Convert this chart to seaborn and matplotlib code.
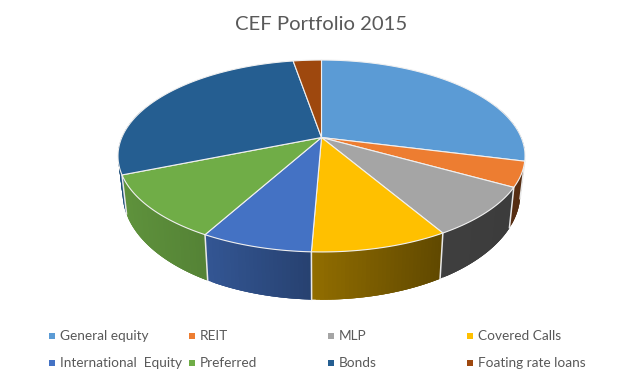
import numpy as np
import seaborn as sns
import matplotlib.pyplot as plt
from matplotlib.colors import to_rgb
from matplotlib.patches import Polygon

categories = ['General equity', 'REIT', 'MLP', 'Covered Calls',
              'International  Equity', 'Preferred', 'Bonds', 'Foating rate loans']
shares = [28.9, 4.2, 8.4, 9.1, 7.4, 10.8, 28.4, 2.7]
colors = ['#5b9bd5', '#ed7d31', '#a5a5a5', '#ffc000',
          '#4472c4', '#70ad47', '#255e91', '#9e480e']

# perspective of the disc, in pixels
CX, CY = 321.5, 137.5
A, B, K = 92.4, 199.7, 0.1927


def project(theta):
    x = np.cos(np.radians(theta))
    y = np.sin(np.radians(theta))
    w = 1 + K * y
    return CX + B * x / w, CY - A * y / w


def drop(px, py):
    # rim point -> same point on the bottom edge of the side wall
    return CX + (px - CX) * 0.977, 1.11 * py + 20


def shade(px):
    return np.interp(px, [118, 208, 312, 441, 525], [0.85, 0.75, 0.57, 0.38, 0.36])


sns.set_theme(style='white')
plt.rcParams['font.family'] = ['Lato', 'DejaVu Sans']

fig, ax = plt.subplots(figsize=(6.4, 3.86), dpi=100)
fig.subplots_adjust(0, 0, 1, 1)

# pie only gives the wedge angles, the wedges are redrawn in perspective
wedges, _ = ax.pie(shares, colors=colors, startangle=90, counterclock=False)
angles = [(w.theta1, w.theta2) for w in wedges]
for w in wedges:
    w.remove()

ax.set_aspect('auto')
ax.set_xlim(0, 640)
ax.set_ylim(386, 0)
ax.axis('off')

# side wall first, strips overlap so no seams show between them
for (t1, t2), col in zip(angles, colors):
    base = np.array(to_rgb(col))
    ts = np.linspace(t1, t2, int(t2 - t1) + 2)
    for i, (a, b) in enumerate(zip(ts[:-1], ts[1:])):
        if np.sin(np.radians((a + b) / 2)) > 0.35:
            continue
        end = ts[min(i + 3, len(ts) - 1)]
        strip = np.linspace(a, end, 6)
        px, py = project(strip)
        qx, qy = drop(px, py)
        pts = list(zip(px, py)) + list(zip(qx[::-1], qy[::-1]))
        ax.add_patch(Polygon(pts, closed=True, lw=0,
                             fc=base * shade(project((a + b) / 2)[0]), zorder=2))
for (t1, t2) in angles:
    # white divider on the wall
    if np.sin(np.radians(t1)) < 0.35:
        p = project(t1)
        q = drop(*p)
        ax.plot([p[0], q[0]], [p[1], q[1]], color='#e8e8e8', lw=1.1, zorder=3)

# top of the pie
for (t1, t2), col in zip(angles, colors):
    ts = np.linspace(t1, t2, 80)
    px, py = project(ts)
    pts = [(CX, CY)] + list(zip(px, py))
    ax.add_patch(Polygon(pts, closed=True, fc=col, ec='#f0f0f0', lw=0.8, zorder=4))

ax.text(321.5, 25, 'CEF Portfolio 2015', ha='center', va='center',
        fontsize=14.6, color='#595959')

# legend grid
col_x = [52, 192, 331, 470]
row_y = [336, 363]
for i, (name, col) in enumerate(zip(categories, colors)):
    x, y = col_x[i % 4], row_y[i // 4]
    ax.scatter([x], [y], marker='s', s=18, color=col, linewidths=0, zorder=5)
    ax.text(x + 8, y, name, ha='left', va='center', fontsize=9.8, color='#595959')

fig.savefig('out.png', dpi=100)
